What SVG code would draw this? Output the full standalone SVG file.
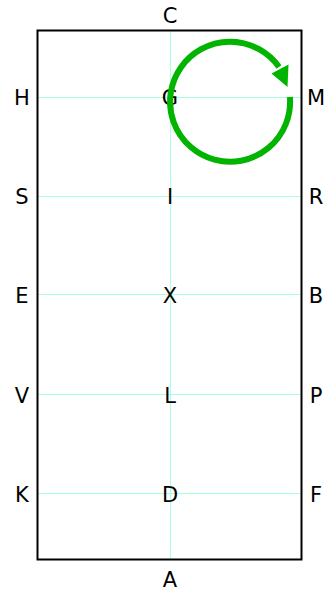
<svg xmlns="http://www.w3.org/2000/svg" width="336" height="594" viewBox="0 0 336 594">
<style>
.grid{stroke:#aaffdd;stroke-width:1;fill:none}
.lbl{font-family:"DejaVu Sans",sans-serif;font-size:21px;fill:#000;text-anchor:middle}
</style>
<rect width="336" height="594" fill="#fff"/>
<g id="grid">
<line class="grid" x1="170.5" y1="30" x2="170.5" y2="559"/>
<line class="grid" x1="37" y1="97.5" x2="301" y2="97.5"/>
<line class="grid" x1="37" y1="196.5" x2="301" y2="196.5"/>
<line class="grid" x1="37" y1="294.5" x2="301" y2="294.5"/>
<line class="grid" x1="37" y1="394.5" x2="301" y2="394.5"/>
<line class="grid" x1="37" y1="493.5" x2="301" y2="493.5"/>
</g>
<g id="frame"><rect x="37.5" y="30.5" width="264" height="529" fill="none" stroke="#000" stroke-width="2"/></g>
<g id="labels">
<text class="lbl" x="170" y="23">C</text>
<text class="lbl" x="170" y="587">A</text>
<text class="lbl" x="22" y="105">H</text>
<text class="lbl" x="170" y="105">G</text>
<text class="lbl" x="316" y="105">M</text>
<text class="lbl" x="22" y="204">S</text>
<text class="lbl" x="170" y="204">I</text>
<text class="lbl" x="316" y="204">R</text>
<text class="lbl" x="22" y="303">E</text>
<text class="lbl" x="170" y="303">X</text>
<text class="lbl" x="316" y="303">B</text>
<text class="lbl" x="22" y="403">V</text>
<text class="lbl" x="170" y="403">L</text>
<text class="lbl" x="316" y="403">P</text>
<text class="lbl" x="22" y="502">K</text>
<text class="lbl" x="170" y="502">D</text>
<text class="lbl" x="316" y="502">F</text>
</g>
<g id="connectors">
<path d="M 289.9 97 A 60 60 0 1 1 279 67" fill="none" stroke="#00b400" stroke-width="6"/>
<polygon points="287.5,87 271.5,73.5 288.5,64.5" fill="#00b400"/>
</g>
</svg>
